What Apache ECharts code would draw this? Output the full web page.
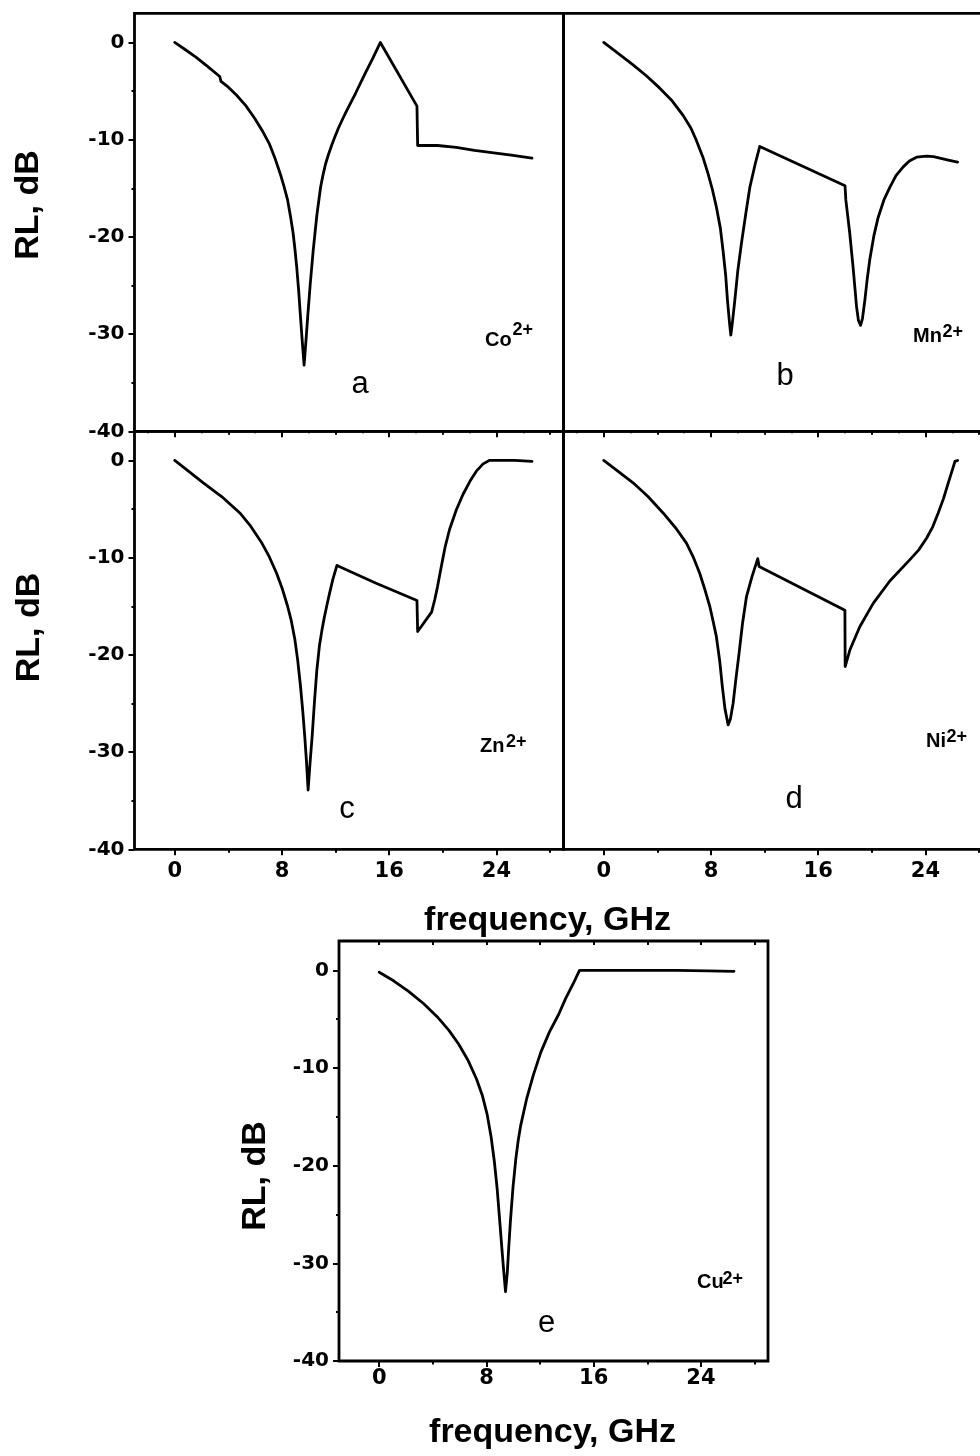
<!DOCTYPE html>
<html>
<head>
<meta charset="utf-8">
<script src="https://cdn.jsdelivr.net/npm/echarts@6/dist/echarts.min.js"></script>
<style>
  html, body { margin: 0; padding: 0; background: #ffffff; }
  #chart { width: 980px; height: 1456px; }
</style>
</head>
<body>
<div id="chart"></div>
<script>
// Axis tick values
const freqTicks = [0, 8, 16, 24];
const freqMinorTicks = [4, 12, 20, 28];
const freqFineTicks = [-2, 0, 2, 4, 6, 8, 10, 12, 14, 16, 18, 20, 22, 24, 26, 28];
const freqQuarterTicks = [0, 4, 8, 12, 16, 20, 24, 28];
const rlTicks = [-40, -30, -20, -10, 0];
const rlMinorTicks = [-35, -25, -15, -5];

// (a) Co2+ : reflection loss vs frequency
const freqCo = [0, 0.8, 1.58, 2.4, 3.36, 3.45, 4.0, 4.6, 5.3, 5.96, 6.5, 7.05, 7.5, 7.87, 8.15, 8.42, 8.65, 8.83, 8.97, 9.1, 9.25, 9.38, 9.5, 9.65,
  9.8, 9.92, 10.1, 10.33, 10.6, 10.88, 11.05, 11.25, 11.45, 11.7, 11.95, 12.2, 12.5, 12.8, 13.5, 14.16, 14.8, 15.34,
  18.07, 18.12, 19.6, 21.0, 22.36, 23.8, 25.1, 26.65];
const rlCo = [0, -0.75, -1.5, -2.4, -3.5, -4.0, -4.6, -5.4, -6.5, -7.8, -9.0, -10.4, -12.0, -13.5, -14.8, -16.2, -18.0, -19.6, -21.3, -23.1, -25.6, -28.2, -30.5, -33.2,
  -30.5, -28.2, -25.0, -21.4, -17.8, -14.9, -13.7, -12.5, -11.6, -10.6, -9.7, -8.85, -7.95, -7.1, -5.2, -3.3, -1.55, 0,
  -6.55, -10.6, -10.6, -10.8, -11.1, -11.35, -11.6, -11.9];

// (b) Mn2+
const freqMn = [0, 1.1, 2.19, 3.2, 4.18, 5.1, 5.92, 6.5, 6.92, 7.4, 7.78, 8.1, 8.4, 8.7, 8.9, 9.1, 9.23, 9.38, 9.48,
  9.6, 9.78, 10.0, 10.27, 10.6, 10.9, 11.3, 11.64,
  18.0, 18.06, 18.35, 18.6, 18.86, 19.0, 19.16, 19.3, 19.48, 19.65, 19.85, 20.15, 20.47, 20.9, 21.34, 21.8, 22.34, 22.8, 23.33, 24.08, 24.6, 25.07, 25.7, 26.4];
const rlMn = [0, -1.15, -2.3, -3.45, -4.7, -6.0, -7.5, -8.8, -10.1, -11.8, -13.5, -15.1, -16.9, -19.1, -21.4, -24.0, -26.5, -28.8, -30.1,
  -28.8, -26.5, -23.5, -20.7, -17.6, -14.9, -12.5, -10.7,
  -14.75, -16.2, -19.6, -23.1, -27.2, -28.6, -29.1, -28.4, -26.5, -24.4, -22.3, -19.9, -18.0, -16.2, -14.9, -13.7, -12.8, -12.2, -11.8, -11.7, -11.75, -11.9, -12.1, -12.3];

// (c) Zn2+
const freqZn = [0, 1.07, 2.13, 3.5, 4.86, 5.68, 6.5, 7.05, 7.6, 8.01, 8.42, 8.69, 8.96, 9.17, 9.38, 9.54, 9.7, 9.83, 9.95,
  10.1, 10.25, 10.42, 10.6, 10.8, 11.0, 11.15, 11.35, 11.56, 11.8, 12.1,
  14.98, 18.07, 18.12, 19.16, 19.4, 19.6, 19.9, 20.17, 20.5, 21.0, 21.5, 22.08, 22.5, 23.0, 23.46, 25.37, 26.65];
const rlZn = [0, -1.14, -2.3, -3.71, -5.4, -6.79, -8.5, -9.9, -11.6, -13.14, -15.0, -16.46, -18.4, -20.51, -23.2, -25.6, -28.4, -31.0, -33.9,
  -31.0, -28.4, -24.9, -21.6, -19.0, -17.3, -16.2, -14.9, -13.6, -12.2, -10.8,
  -12.6, -14.4, -17.6, -15.6, -14.3, -13.0, -10.8, -8.9, -7.1, -5.1, -3.5, -2.0, -1.1, -0.35, 0, 0, -0.1];

// (d) Ni2+
const freqNi = [0, 1.1, 2.19, 3.3, 4.43, 5.4, 6.17, 6.7, 7.16, 7.55, 7.91, 8.17, 8.4, 8.65, 8.85, 9.05, 9.28,
  9.45, 9.65, 9.85, 10.1, 10.35, 10.65, 11.05, 11.49, 11.59,
  17.99, 18.01, 18.36, 19.1, 20.1, 21.34, 22.84, 23.5, 24.08, 24.55, 24.95, 25.35, 25.7, 26.0, 26.2, 26.4];
const rlNi = [0, -1.15, -2.3, -3.7, -5.4, -7.0, -8.5, -10.0, -11.6, -13.3, -15.0, -16.6, -18.1, -20.6, -23.3, -25.6, -27.2,
  -26.6, -25.0, -22.6, -19.8, -16.8, -14.0, -12.0, -10.1, -10.9,
  -15.4, -21.2, -19.5, -17.1, -14.7, -12.4, -10.2, -9.2, -8.0, -6.8, -5.4, -3.9, -2.3, -1.0, -0.1, 0];

// (e) Cu2+
const freqCu = [0, 1.1, 2.19, 3.3, 4.32, 5.2, 5.92, 6.6, 7.25, 7.7, 8.05, 8.35, 8.59, 8.8, 8.98, 9.15, 9.3, 9.42,
  9.55, 9.67, 9.79, 9.98, 10.19, 10.37, 10.55, 10.99, 11.5, 12.05, 12.7, 13.39, 13.9, 14.46, 14.94,
  18.2, 22.2, 24.5, 26.46];
const rlCu = [-0.2, -1.1, -2.15, -3.4, -4.75, -6.15, -7.55, -9.15, -11.1, -12.85, -14.75, -17.1, -19.6, -22.4, -25.5, -28.5, -31.0, -32.9,
  -31.0, -28.2, -25.6, -22.2, -19.3, -17.4, -15.9, -13.2, -10.7, -8.4, -6.3, -4.5, -2.9, -1.4, 0,
  0, 0, -0.05, -0.1];

const zip = (xs, ys) => xs.map((x, i) => [x, ys[i]]);

const AXIS_FONT = { color: '#000', fontFamily: 'DejaVu Sans', fontWeight: 'bold' };
const TITLE_FONT = 'bold 34px "Liberation Sans", Arial, sans-serif';

// Panel frames: a (top-left), b (top-right), c (bottom-left), d (bottom-right), e (bottom)
const panels = [
  { grid: { left: 134.5, top: 13.3, width: 429, height: 418 }, xLabels: false, yLabels: true,  fine: false, quarter: false, freq: freqCo, rl: rlCo },
  { grid: { left: 563.5, top: 13.3, width: 429, height: 418 }, xLabels: false, yLabels: false, fine: false, quarter: false, freq: freqMn, rl: rlMn },
  { grid: { left: 134.5, top: 431.3, width: 429, height: 418 }, xLabels: true, yLabels: true,  fine: true,  quarter: false, freq: freqZn, rl: rlZn },
  { grid: { left: 563.5, top: 431.3, width: 429, height: 418 }, xLabels: true, yLabels: false, fine: true,  quarter: false, freq: freqNi, rl: rlNi },
  { grid: { left: 339, top: 941, width: 429, height: 420 }, xLabels: true, yLabels: true,  fine: false, quarter: true, freq: freqCu, rl: rlCu, xMargin: 7 }
];

const grid = [], xAxis = [], yAxis = [], series = [];

function xAx(g, position, ticks, len, inside, labels, margin) {
  xAxis.push({
    type: 'value', gridIndex: g, min: -3, max: 29, position: position,
    axisLine: { show: false, onZero: false },
    splitLine: { show: false },
    axisTick: { show: true, inside: inside, length: len, customValues: ticks, lineStyle: { color: '#000', width: 2 } },
    axisLabel: Object.assign({ show: labels, customValues: ticks, margin: margin, fontSize: 21 }, AXIS_FONT)
  });
  return xAxis.length - 1;
}
function yAx(g, ticks, len, showTicks, labels) {
  yAxis.push({
    type: 'value', gridIndex: g, min: -40, max: 3, position: 'left',
    axisLine: { show: false, onZero: false },
    splitLine: { show: false },
    axisTick: { show: showTicks, inside: false, length: len, customValues: ticks, lineStyle: { color: '#000', width: 2 } },
    axisLabel: Object.assign({ show: labels, customValues: ticks, margin: 10, fontSize: 20 }, AXIS_FONT)
  });
  return yAxis.length - 1;
}

panels.forEach((p, g) => {
  grid.push(Object.assign({
    show: true, borderColor: '#000', borderWidth: 2.8, backgroundColor: 'transparent',
    outerBoundsMode: 'none', containLabel: false
  }, p.grid));
  const xi = xAx(g, 'bottom', freqTicks, 6, false, p.xLabels, p.xMargin || 12);
  xAx(g, 'bottom', freqMinorTicks, 3.5, false, false, 0);
  if (p.fine) xAx(g, 'top', freqFineTicks, 2, true, false, 0);
  if (p.quarter) xAx(g, 'top', freqQuarterTicks, 4, true, false, 0);
  const yi = yAx(g, rlTicks, 6, p.yLabels, p.yLabels);
  yAx(g, rlMinorTicks, 3, p.yLabels, false);
  series.push({
    type: 'line', xAxisIndex: xi, yAxisIndex: yi,
    data: zip(p.freq, p.rl),
    showSymbol: false, symbol: 'none', smooth: false, silent: true,
    lineStyle: { color: '#000', width: 2.8, join: 'round', cap: 'round' }
  });
});

// Text annotations
const graphic = [];
function txt(text, x, y, font, align, rotation) {
  graphic.push({
    type: 'text', x: x, y: y, rotation: rotation || 0, silent: true,
    style: { text: text, x: 0, y: 0, font: font, fill: '#000',
             align: align || 'center', verticalAlign: 'middle',
             textAlign: align || 'center', textVerticalAlign: 'middle' }
  });
}
// axis titles
txt('RL, dB', 29, 205, TITLE_FONT, 'center', Math.PI / 2);
txt('RL, dB', 29.5, 627.5, TITLE_FONT, 'center', Math.PI / 2);
txt('RL, dB', 256, 1176, TITLE_FONT, 'center', Math.PI / 2);
txt('frequency, GHz', 547.5, 921, TITLE_FONT, 'center');
txt('frequency, GHz', 552.5, 1432.5, TITLE_FONT, 'center');

// panel letters
const LETTER_FONT = '31px "Liberation Sans", Arial, sans-serif';
txt('a', 360, 384.3, LETTER_FONT);
txt('b', 785, 376, LETTER_FONT);
txt('c', 347, 809.3, LETTER_FONT);
txt('d', 794, 799.3, LETTER_FONT);
txt('e', 546.5, 1323.3, LETTER_FONT);

// ion labels with superscript charge
const ION_FONT = 'bold 20px "Liberation Sans", Arial, sans-serif';
const SUP_FONT = 'bold 18px "Liberation Sans", Arial, sans-serif';
function ion(sym, x, yMid, supX, supMid) {
  txt(sym, x, yMid, ION_FONT, 'left');
  txt('2+', supX, supMid, SUP_FONT, 'left');
}
ion('Co', 485, 340, 512.5, 329.7);
ion('Mn', 913, 336, 942.5, 331.7);
ion('Zn', 480, 746, 506, 741.7);
ion('Ni', 926, 741, 946.5, 736.7);
ion('Cu', 697, 1282.6, 722.5, 1278.7);

const chart = echarts.init(document.getElementById('chart'), null, { renderer: 'canvas' });
chart.setOption({
  animation: false,
  backgroundColor: '#ffffff',
  grid: grid,
  xAxis: xAxis,
  yAxis: yAxis,
  series: series,
  graphic: graphic
});
</script>
</body>
</html>
